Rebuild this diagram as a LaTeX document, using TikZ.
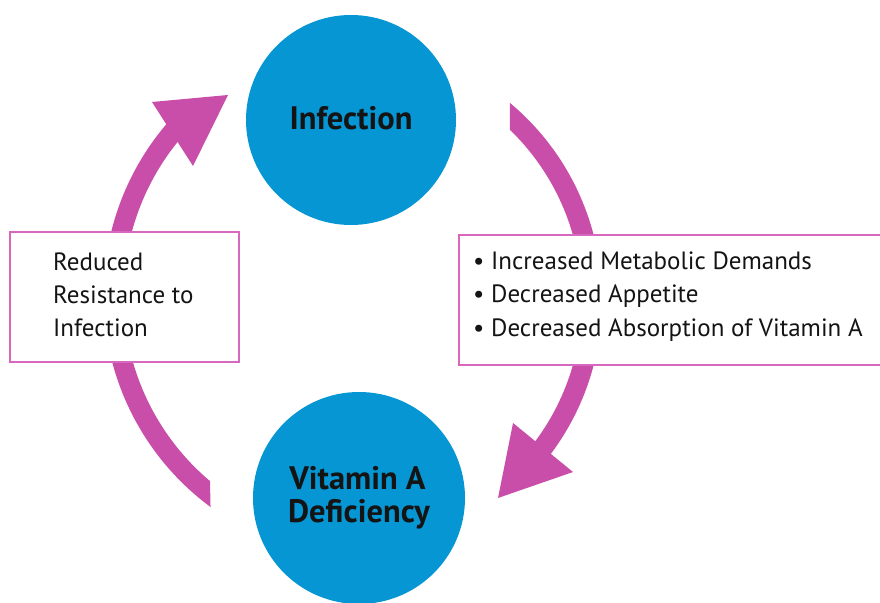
\documentclass[tikz,border=0pt]{standalone}
\usepackage{fontspec}
\setmainfont{PT Sans}
\definecolor{cblue}{RGB}{5,150,211}
\definecolor{cmag}{RGB}{200,78,169}
\definecolor{cbox}{RGB}{216,104,190}
\definecolor{ctext}{RGB}{20,20,20}
\begin{document}
\begin{tikzpicture}[x=1pt,y=1pt,
  blob/.style={circle,fill=cblue,inner sep=0pt,text=ctext,font=\fontsize{32.5}{33}\selectfont\bfseries,align=center},
  labbox/.style={draw=cbox,line width=1.8pt,fill=white,inner sep=0pt},
  boxtext/.style={anchor=base west,inner sep=0pt,text=ctext,font=\fontsize{25}{28}\selectfont},
  band/.style={fill=cmag}]
\useasboundingbox (0,0) rectangle (880,602);
% centres of the two curved arrows
\coordinate (lc) at (367,307);
\coordinate (rc) at (345,302);
% left arrow: Vitamin A Deficiency -> Infection
\fill[band] ([shift={(lc)}]233.57:263.5) arc[start angle=233.57,end angle=137,radius=263.5]
  -- ([shift={(lc)}]137:243.5) arc[start angle=137,end angle=229.85,radius=243.5] -- cycle;
\fill[band] (152,500) -- (228,507) -- (193,436) -- cycle;
% right arrow: Infection -> Vitamin A Deficiency
\fill[band] ([shift={(rc)}]50.06:257) arc[start angle=50.06,end angle=-39,radius=257]
  -- ([shift={(rc)}]-39:237) arc[start angle=-39,end angle=45.88,radius=237] -- cycle;
\fill[band] (513,179) -- (573,130) -- (498,104) -- cycle;
% boxes
\node[labbox,minimum width=229,minimum height=130] (resist) at (124.5,305) {};
\node[labbox,minimum width=427,minimum height=130] (causes) at (672.5,302) {};
\node[boxtext] (r1) at (53,331) {Reduced};
\node[boxtext] (r2) at (53,298.5) {Resistance to};
\node[boxtext] (r3) at (53,265) {Infection};
\node[boxtext] (c1) at (473,332) {\textbullet\ Increased Metabolic Demands};
\node[boxtext] (c2) at (473,299) {\textbullet\ Decreased Appetite};
\node[boxtext] (c3) at (473,265.5) {\textbullet\ Decreased Absorption of Vitamin A};
% circles
\node[blob,minimum size=210] (inf) at (351,482) {\raisebox{3.5pt}{Infection}};
\node[blob,minimum size=212] (vad) at (359,104) {\hspace*{-3pt}Vitamin A\\Deficiency};
\end{tikzpicture}
\end{document}
